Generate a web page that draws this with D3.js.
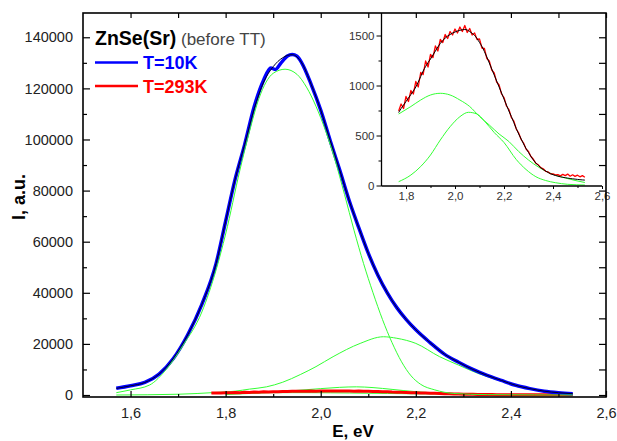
<!DOCTYPE html>
<html>
<head>
<meta charset="utf-8">
<script src="https://cdn.jsdelivr.net/npm/d3@7"></script>
<style>
  body { margin: 0; background: #fff; }
  svg { display: block; font-family: "Liberation Sans", Arial, sans-serif; }
</style>
</head>
<body>
<svg id="chart" width="617" height="441"></svg>
<script>
// T=10K spectrum [E (eV), I (a.u.)]
const blue10K = [[1.57,2600],[1.60,3600],[1.63,4900],[1.66,8200],[1.69,14300],[1.72,23500],[1.75,35500],
  [1.78,51500],[1.80,68000],[1.82,84500],[1.84,98000],[1.86,112800],[1.88,123300],[1.895,128000],[1.905,127400],
  [1.915,129600],[1.93,132700],[1.94,133300],[1.95,132600],[1.96,130000],[1.98,121500],[2.00,111500],[2.02,99500],
  [2.04,88000],[2.06,76000],[2.08,65500],[2.10,55500],[2.12,47000],[2.14,40000],[2.16,34200],[2.18,29500],
  [2.20,25500],[2.23,20500],[2.26,16000],[2.29,12800],[2.32,10000],[2.35,7700],[2.38,5700],[2.41,3800],
  [2.44,2500],[2.47,1500],[2.50,900],[2.53,500]];
const fit10K = [[1.57,2600],[1.60,3600],[1.63,4900],[1.66,8200],[1.69,14300],[1.72,23500],[1.75,35500],
  [1.78,51500],[1.80,68000],[1.82,84500],[1.84,98000],[1.86,112000],[1.88,122500],[1.90,128500],[1.92,132000],
  [1.94,133200],[1.96,130000],[1.98,121500],[2.00,111500],[2.02,99500],[2.04,88000],[2.06,76000],[2.08,65500],
  [2.10,55500],[2.12,47000],[2.14,40000],[2.16,34200],[2.18,29500],[2.20,25500],[2.23,20500],[2.26,16000],
  [2.29,12800],[2.32,10000],[2.35,7700],[2.38,5700],[2.41,3800],[2.44,2500],[2.47,1500],[2.50,900],[2.53,500]];
// fit components of the 10K spectrum
const peak10K_1 = [[1.57,900],[1.60,2000],[1.64,3900],[1.675,10000],[1.71,19300],[1.75,32500],[1.78,49000],
  [1.80,63000],[1.83,88000],[1.85,103000],[1.87,116000],[1.90,125900],[1.925,127500],[1.95,125500],[1.97,120500],
  [1.99,113000],[2.01,103500],[2.03,92000],[2.05,78500],[2.07,64500],[2.09,51500],[2.11,40000],[2.13,29500],
  [2.15,20500],[2.17,13000],[2.19,7500],[2.21,4200],[2.24,2000],[2.28,600],[2.35,150],[2.45,40],[2.53,0]];
const peak10K_2 = [[1.57,0],[1.70,300],[1.78,1000],[1.82,1500],[1.85,2300],[1.886,3200],[1.92,5000],
  [1.957,8000],[1.99,11100],[2.026,15000],[2.083,20200],[2.132,22800],[2.16,22200],[2.20,20200],[2.25,15000],
  [2.29,11700],[2.33,8500],[2.37,6000],[2.41,3800],[2.45,2200],[2.49,1200],[2.53,600]];

// T=293K spectrum, measured on a 0.01 eV grid starting at 1.77 eV
const e293 = d3.range(177, 254).map(d => d / 100);
const red293 = [745,815,770,890,840,950,915,1040,985,1130,1110,1245,1185,1310,1280,1395,1345,1460,1430,1510,
  1470,1540,1505,1565,1525,1585,1540,1600,1530,1570,1505,1525,1460,1465,1375,1370,1270,1245,1155,1125,
  1035,1005,915,880,795,760,680,645,565,525,460,425,365,340,290,262,222,207,178,167,
  142,136,117,116,106,109,96,111,99,114,93,107,91,103,87,99,83];
const fit293 = [730,770,805,840,875,910,945,985,1035,1090,1145,1190,1230,1265,1305,1345,1385,1420,1450,1475,
  1495,1510,1525,1535,1545,1552,1558,1560,1555,1540,1522,1500,1470,1430,1390,1340,1285,1225,1165,1105,
  1045,985,925,865,805,745,690,630,570,515,465,415,370,330,290,255,225,200,178,160,
  145,130,118,108,100,93,87,82,78,74,70,67,64,61,58,56,54];
// fit components of the 293K spectrum
const peak293_1 = [[1.77,715],[1.82,790],[1.86,855],[1.90,905],[1.94,922],[1.98,905],[2.02,855],[2.06,790],
  [2.10,690],[2.14,605],[2.18,515],[2.22,440],[2.26,340],[2.30,255],[2.34,185],[2.39,122],[2.45,75],[2.53,30]];
const peak293_2 = [[1.77,38],[1.82,105],[1.86,190],[1.90,305],[1.94,455],[1.98,588],[2.02,688],[2.055,732],
  [2.09,715],[2.12,645],[2.16,530],[2.20,430],[2.25,260],[2.29,160],[2.33,88],[2.37,50],[2.41,28],[2.46,12],[2.53,5]];
// small component drawn with the 293K curve in the main panel
const bump293 = [[1.80,200],[1.85,600],[1.90,1100],[1.95,1800],[2.00,2500],[2.04,3000],[2.075,3200],[2.11,2900],
  [2.15,2200],[2.20,1300],[2.25,700],[2.30,300],[2.40,100],[2.53,50]];

const xTicksMain = [1.6, 1.8, 2.0, 2.2, 2.4, 2.6];
const yTicksMain = [0, 20000, 40000, 60000, 80000, 100000, 120000, 140000];
const xTicksInset = [1.8, 2.0, 2.2, 2.4, 2.6];
const yTicksInset = [0, 500, 1000, 1500];

const GREEN = "#33ff33";
const comma = d => d3.format(".1f")(d).replace(".", ",");

const svg = d3.select("#chart");
const L = 83, R = 606, T = 13, B = 397;

const x = d3.scaleLinear().domain([1.5, 2.6]).range([L, R]);
const y = d3.scaleLinear().domain([-780, 149500]).range([B, T]);

svg.append("clipPath").attr("id", "clipMain")
  .append("rect").attr("x", L).attr("y", T).attr("width", R - L).attr("height", B - T);

const g = svg.append("g").attr("clip-path", "url(#clipMain)");
const line = d3.line().x(d => x(d[0])).y(d => y(d[1])).curve(d3.curveMonotoneX);
const rough = d3.line().x(d => x(d[0])).y(d => y(d[1]));

function draw(parent, data, ln, color, w) {
  parent.append("path").datum(data).attr("d", ln)
    .attr("fill", "none").attr("stroke", color).attr("stroke-width", w)
    .attr("stroke-linejoin", "round");
}

const red293Pairs = e293.map((e, i) => [e, red293[i]]);
const fit293Pairs = e293.map((e, i) => [e, fit293[i]]);

draw(g, peak10K_2, line, GREEN, 1);
draw(g, peak293_1, line, GREEN, 1);
draw(g, bump293, line, GREEN, 1);
draw(g, red293Pairs, rough, "#ff0000", 3);
draw(g, blue10K, line, "#0000ff", 3.5);
draw(g, fit10K, line, "#000022", 1);
draw(g, peak10K_1, line, GREEN, 1);

// ---- inset ----
const IL = 381.5, IR = 602, IB = 186;
const xi = d3.scaleLinear().domain([1.7, 2.6]).range([IL, IR]);
const yi = d3.scaleLinear().domain([-5, 1725]).range([IB, T]);
const lineI = d3.line().x(d => xi(d[0])).y(d => yi(d[1])).curve(d3.curveMonotoneX);
const roughI = d3.line().x(d => xi(d[0])).y(d => yi(d[1]));
const gi = svg.append("g");

draw(gi, peak293_1, lineI, GREEN, 1);
draw(gi, peak293_2, lineI, GREEN, 1);
draw(gi, red293Pairs, roughI, "#ff0000", 1.3);
draw(gi, fit293Pairs, lineI, "#000000", 1);

gi.append("line").attr("x1", IL).attr("x2", IL).attr("y1", T).attr("y2", IB)
  .attr("stroke", "#000").attr("stroke-width", 1.3);
gi.append("line").attr("x1", IL).attr("x2", IR).attr("y1", IB).attr("y2", IB)
  .attr("stroke", "#000").attr("stroke-width", 1.3);

const axI = (sel) => { sel.select(".domain").remove(); sel.selectAll("line").attr("stroke", "#000"); };
gi.append("g").attr("transform", `translate(${IL},0)`)
  .call(d3.axisLeft(yi).tickValues(yTicksInset).tickSize(5).tickPadding(2).tickFormat(d3.format("d")))
  .call(axI).selectAll("text").attr("font-size", 11.5).attr("fill", "#333").attr("font-family", null);
gi.append("g").attr("transform", `translate(${IL},0)`)
  .call(d3.axisLeft(yi).tickValues([250, 750, 1250]).tickSize(3).tickFormat(""))
  .call(axI);
gi.append("g").attr("transform", `translate(0,${IB})`)
  .call(d3.axisBottom(xi).tickValues(xTicksInset).tickSize(3).tickPadding(3).tickFormat(comma))
  .call(axI).selectAll("text").attr("font-size", 11.5).attr("fill", "#333").attr("font-family", null);
gi.append("g").attr("transform", `translate(0,${IB})`)
  .call(d3.axisBottom(xi).tickValues([1.9, 2.1, 2.3, 2.5]).tickSize(2).tickFormat(""))
  .call(axI);

// ---- main axes ----
const ax = (sel) => { sel.select(".domain").remove(); sel.selectAll("line").attr("stroke", "#000").attr("stroke-width", 1.2); };
const minorX = [1.7, 1.9, 2.1, 2.3, 2.5];
const minorY = [10000, 30000, 50000, 70000, 90000, 110000, 130000];

svg.append("g").attr("transform", `translate(${L},0)`)
  .call(d3.axisLeft(y).tickValues(yTicksMain).tickSize(-7).tickPadding(10).tickFormat(d3.format("d")))
  .call(ax).selectAll("text").attr("font-size", 14.5).attr("fill", "#222").attr("font-family", null);
svg.append("g").attr("transform", `translate(${L},0)`)
  .call(d3.axisLeft(y).tickValues(minorY).tickSize(-4).tickFormat(""))
  .call(ax);
svg.append("g").attr("transform", `translate(${R},0)`)
  .call(d3.axisRight(y).tickValues(yTicksMain.concat(minorY)).tickSize(-7).tickFormat(""))
  .call(ax);
svg.append("g").attr("transform", `translate(0,${B})`)
  .call(d3.axisBottom(x).tickValues(xTicksMain).tickSize(-6).tickPadding(11).tickFormat(comma))
  .call(ax).selectAll("text").attr("font-size", 14.5).attr("fill", "#222").attr("font-family", null);
svg.append("g").attr("transform", `translate(0,${B})`)
  .call(d3.axisBottom(x).tickValues(minorX).tickSize(-3).tickFormat(""))
  .call(ax);
svg.append("g").attr("transform", `translate(0,${T})`)
  .call(d3.axisTop(x).tickValues(xTicksMain.concat(minorX)).tickSize(-5).tickFormat(""))
  .call(ax);

svg.append("rect").attr("x", L).attr("y", T).attr("width", R - L).attr("height", B - T)
  .attr("fill", "none").attr("stroke", "#000").attr("stroke-width", 1.6);

// axis titles
svg.append("text").attr("x", 353).attr("y", 437).attr("text-anchor", "middle")
  .attr("font-size", 17).attr("font-weight", "bold").text("E, eV");
svg.append("text").attr("transform", "translate(25,197) rotate(-90)").attr("text-anchor", "middle")
  .attr("font-size", 18).attr("font-weight", "bold").text("I, a.u.");

// legend
const title = svg.append("text").attr("x", 95).attr("y", 45);
title.append("tspan").attr("font-size", 19.5).attr("font-weight", "bold").text("ZnSe(Sr)");
title.append("tspan").attr("font-size", 17).attr("fill", "#444").text(" (before TT)");

const legend = [["T=10K", "#0000ff", 62.5], ["T=293K", "#ff0000", 86]];
legend.forEach(([label, color, ly]) => {
  svg.append("line").attr("x1", 95).attr("x2", 138).attr("y1", ly).attr("y2", ly)
    .attr("stroke", color).attr("stroke-width", 2.5);
  svg.append("text").attr("x", 143).attr("y", ly + 6.5).attr("font-size", 18)
    .attr("font-weight", "bold").attr("fill", color).text(label);
});
</script>
</body>
</html>
